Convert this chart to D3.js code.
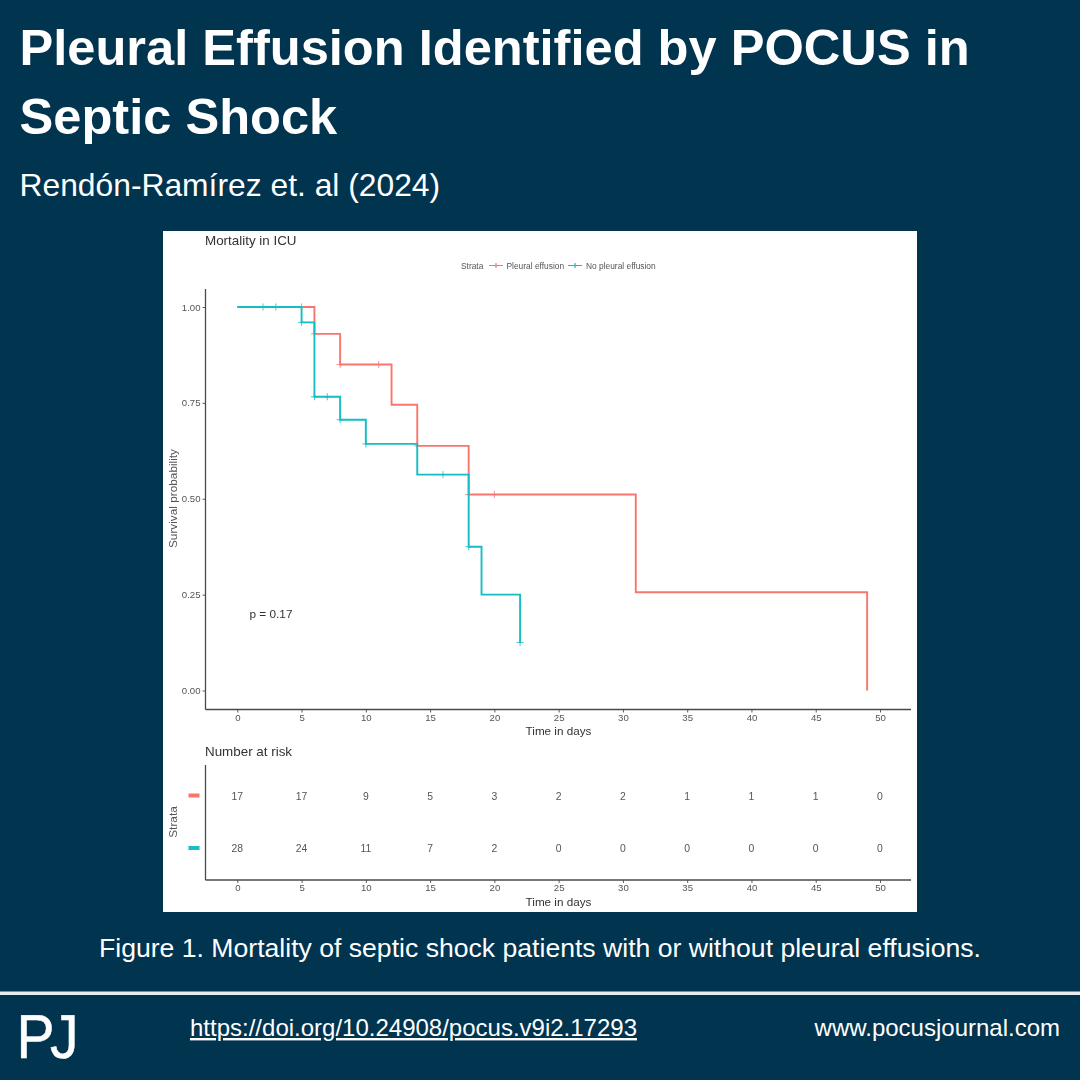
<!DOCTYPE html>
<html><head><meta charset="utf-8">
<script src="https://cdn.jsdelivr.net/npm/d3@7"></script>
<style>html,body{margin:0;padding:0;background:#00344f}svg{display:block}text{font-family:"Liberation Sans",Arial,sans-serif}</style>
</head><body><div id="c"></div>
<script>
const titleLines=["Pleural Effusion Identified by POCUS in","Septic Shock"];
const subtitle="Rendón-Ramírez et. al (2024)";
const caption="Figure 1. Mortality of septic shock patients with or without pleural effusions.";
const doi="https://doi.org/10.24908/pocus.v9i2.17293";
const site="www.pocusjournal.com";
const strataNames=["Pleural effusion","No pleural effusion"];
const strataColors=["#F8766D","#14BDC2"];
const redSteps=[[0,1],[6,0.93],[8,0.85],[12,0.745],[14,0.638],[18,0.511],[31,0.256],[49,0]];
const tealSteps=[[0,1],[5,0.96],[6,0.766],[8,0.706],[10,0.643],[14,0.563],[18,0.375],[19,0.25],[22,0.125]];
const redCensor=[[5,1],[6,0.93],[8,0.85],[11,0.85],[14,0.638],[18,0.511],[20,0.511]];
const tealCensor=[[2,1],[3,1],[5,0.96],[6,0.766],[7,0.766],[8,0.706],[10,0.643],[16,0.563],[18,0.375],[22,0.125]];
const xTicks=[0,5,10,15,20,25,30,35,40,45,50];
const yTicks=[0,0.25,0.5,0.75,1];
const riskRed=[17,17,9,5,3,2,2,1,1,1,0];
const riskTeal=[28,24,11,7,2,0,0,0,0,0,0];

const svg=d3.select("#c").append("svg").attr("width",1080).attr("height",1080);
const defs=svg.append("defs");
defs.append("filter").attr("id","soft").attr("x","-2%").attr("y","-2%").attr("width","104%").attr("height","104%")
  .attr("filterUnits","objectBoundingBox").append("feGaussianBlur").attr("stdDeviation",0.45);
svg.append("rect").attr("width",1080).attr("height",1080).attr("fill","#00344f");
const W="#ffffff";
function t(px,py,s,size,o={}){return svg.append("text").attr("x",px).attr("y",py).text(s).attr("font-size",size)
  .attr("fill",o.fill||W).attr("font-weight",o.weight||400).attr("text-anchor",o.anchor||"start");}
titleLines.forEach((s,i)=>t(19.5,65+i*69,s,50.6,{weight:700}));
t(19.5,196,subtitle,31.8);
t(540,957,caption,26.6,{anchor:"middle"});
svg.append("rect").attr("x",0).attr("y",991.5).attr("width",1080).attr("height",3.5).attr("fill","#e8edf0");
t(0,0,"PJ",62).attr("transform","translate(16.5,1057.5) scale(.92,1)")
  .attr("letter-spacing",-5).attr("text-rendering","geometricPrecision").attr("stroke",W).attr("stroke-width",.5);
t(190,1036,doi,24).attr("text-decoration","underline");
t(1060,1036,site,24,{anchor:"end"});

// white panel
svg.append("rect").attr("x",163).attr("y",231).attr("width",754).attr("height",681).attr("fill","#fff");
const g=svg.append("g").attr("filter","url(#soft)");
const x=d3.scaleLinear().domain([0,50]).range([237.3,880]);
const y=d3.scaleLinear().domain([0,1]).range([690.5,307]);
const AX="#4a4a4a", TXT="#555", DK="#333";
const axLeft=205.5,axRight=911,axBottom=709.5,axTop=289;
function txt(px,py,s,size,o={}){return g.append("text").attr("x",px).attr("y",py).text(s).attr("font-size",size)
  .attr("fill",o.fill||TXT).attr("text-anchor",o.anchor||"middle");}

function xAxis(yPos,topY){
  const a=g.append("g").attr("transform",`translate(0,${yPos})`).call(d3.axisBottom(x).tickValues(xTicks).tickSize(3).tickPadding(1.5));
  a.select(".domain").remove();
  a.selectAll("line").attr("stroke",AX).attr("stroke-width",.9);
  a.selectAll("text").attr("font-size",9.6).attr("fill",TXT).attr("font-family",'"Liberation Sans",Arial,sans-serif');
  g.append("line").attr("x1",axLeft).attr("x2",axRight).attr("y1",yPos).attr("y2",yPos).attr("stroke",AX).attr("stroke-width",1.3);
  g.append("line").attr("x1",axLeft).attr("x2",axLeft).attr("y1",topY).attr("y2",yPos).attr("stroke",AX).attr("stroke-width",1.3);
}
xAxis(axBottom,axTop);
const ya=g.append("g").attr("transform",`translate(${axLeft},0)`).call(d3.axisLeft(y).tickValues(yTicks).tickFormat(d3.format(".2f")).tickSize(3).tickPadding(2));
ya.select(".domain").remove();
ya.selectAll("line").attr("stroke",AX).attr("stroke-width",.9);
ya.selectAll("text").attr("font-size",9.6).attr("fill",TXT).attr("font-family",'"Liberation Sans",Arial,sans-serif');

const line=d3.line().x(d=>x(d[0])).y(d=>y(d[1])).curve(d3.curveStepAfter);
[[redSteps,redCensor,0],[tealSteps,tealCensor,1]].forEach(([st,ce,i])=>{
  g.append("path").attr("d",line(st)).attr("fill","none").attr("stroke",strataColors[i]).attr("stroke-width",1.9);
  g.selectAll(null).data(ce).join("path")
    .attr("d",d=>`M${x(d[0])-3.5},${y(d[1])}h7M${x(d[0])},${y(d[1])-3.5}v7`)
    .attr("stroke",strataColors[i]).attr("stroke-width",.8).attr("fill","none");
});

txt(205,245,"Mortality in ICU",13.4,{anchor:"start",fill:DK});
txt(558.5,735,"Time in days",11.7,{fill:DK});
txt(177,498.5,"Survival probability",11.8,{fill:TXT}).attr("transform","rotate(-90 177 498.5)");
txt(249.5,618,"p = 0.17",11.8,{anchor:"start",fill:DK});

// legend
txt(461,269,"Strata",8.4,{anchor:"start",fill:TXT});
[[489,506.5,0],[568,586,1]].forEach(([lx,tx,i])=>{
  g.append("path").attr("d",`M${lx},265.5h14M${lx+7},263v5`).attr("stroke",strataColors[i]).attr("stroke-width",1.2).attr("fill","none");
  txt(tx,268.5,strataNames[i],8.4,{anchor:"start",fill:TXT});
});

// risk table
const riskBottom=880;
xAxis(riskBottom,765);
txt(205,756,"Number at risk",13.4,{anchor:"start",fill:DK});
txt(558.5,906,"Time in days",11.7,{fill:DK});
txt(177,822,"Strata",11.8,{fill:TXT}).attr("transform","rotate(-90 177 822)");
const rowY=[796,848.5];
[riskRed,riskTeal].forEach((r,i)=>{
  g.selectAll(null).data(r).join("text").attr("x",(d,j)=>x(xTicks[j])).attr("y",rowY[i]+3.5).text(d=>d)
    .attr("font-size",10.4).attr("fill",TXT).attr("text-anchor","middle");
  g.append("rect").attr("x",188.5).attr("y",rowY[i]-2.5).attr("width",11).attr("height",4).attr("fill",strataColors[i]);
});
</script></body></html>
